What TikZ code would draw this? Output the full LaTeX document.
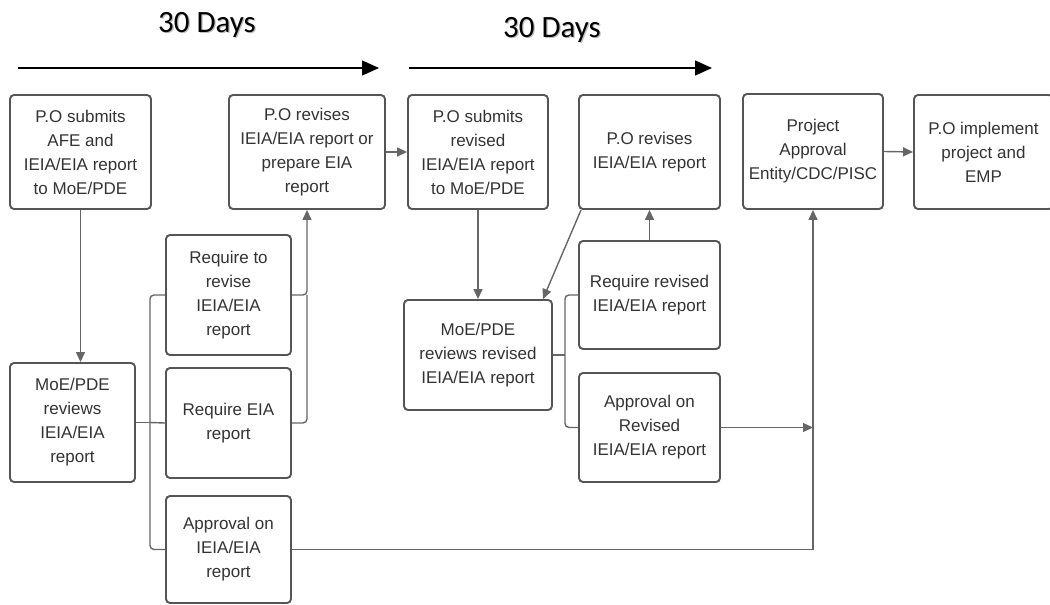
\documentclass[tikz,border=0pt]{standalone}
\usepackage{fontspec}
\setmainfont{Liberation Sans}
\newfontfamily\daysfont{Carlito}
\usetikzlibrary{arrows.meta}
\definecolor{boxline}{HTML}{555555}
\definecolor{connline}{HTML}{666666}
\definecolor{txt}{HTML}{333333}
\tikzset{
  box/.style={draw=boxline, line width=1.9pt, rounded corners=4pt, align=center,
    inner sep=2pt, text=txt, font=\fontsize{17}{24}\selectfont},
  conn/.style={draw=connline, line width=1.4pt},
  garrow/.style={conn, -{Triangle[length=10pt,width=9pt]}},
  dayarrow/.style={draw=black, line width=1.3pt, -{Triangle[length=17pt,width=15pt]}},
  days/.style={font=\daysfont\fontsize{31}{34}\selectfont, text=black},
  dayshadow/.style={font=\daysfont\fontsize{31}{34}\selectfont, text=black!25},
}
\begin{document}
\begin{tikzpicture}[x=1pt,y=-1pt]
\useasboundingbox (0,0) rectangle (1050,605);
% top timeline
\node[dayshadow] (d1s) at (208.2,26.2) {30 Days};
\node[days] (d1) at (207,25) {30 Days};
\node[dayshadow] (d2s) at (553.2,31.2) {30 Days};
\node[days] (d2) at (552,30) {30 Days};
\coordinate (t1s) at (18,68);
\coordinate (t1e) at (379,68);
\coordinate (t2s) at (409,68);
\coordinate (t2e) at (712,68);
\draw[dayarrow] (t1s) -- (t1e);
\draw[dayarrow] (t2s) -- (t2e);
% boxes
\node[box, minimum width=141pt, minimum height=114pt] (b1) at (80.5,152) {P.O submits\\AFE and\\IEIA/EIA report\\to MoE/PDE};
\node[box, minimum width=156pt, minimum height=114pt] (b2) at (307,152) {P.O revises\\IEIA/EIA report or\\prepare EIA\\report};
\node[box, minimum width=140pt, minimum height=114pt] (b3) at (478,152) {P.O submits\\revised\\IEIA/EIA report\\to MoE/PDE};
\node[box, minimum width=141pt, minimum height=114pt] (b4) at (649.5,152) {P.O revises\\IEIA/EIA report};
\node[box, minimum width=140pt, minimum height=115pt] (b5) at (813,151.5) {Project\\Approval\\Entity/CDC/PISC};
\node[box, minimum width=139pt, minimum height=114pt] (b6) at (983.5,152) {P.O implement\\project and\\EMP};
\node[box, minimum width=125pt, minimum height=119pt] (b7) at (72.5,422.5) {MoE/PDE\\reviews\\IEIA/EIA\\report};
\node[box, minimum width=125pt, minimum height=120pt] (b8) at (228.5,295) {Require to\\revise\\IEIA/EIA\\report};
\node[box, minimum width=125pt, minimum height=110pt] (b9) at (228.5,423) {Require EIA\\report};
\node[box, minimum width=125pt, minimum height=107pt] (b10) at (228.5,549.5) {Approval on\\IEIA/EIA\\report};
\node[box, minimum width=148pt, minimum height=110pt] (b11) at (478,355) {MoE/PDE\\reviews revised\\IEIA/EIA report};
\node[box, minimum width=141pt, minimum height=108pt] (b12) at (649.5,295) {Require revised\\IEIA/EIA report};
\node[box, minimum width=141pt, minimum height=109pt] (b13) at (649.5,427.5) {Approval on\\Revised\\IEIA/EIA report};
% connectors
\draw[garrow] (b1.south) -- (b1.south |- b7.north);
\coordinate (j1) at (150,422.5);
\draw[conn] (b7.east) -- (j1);
\draw[conn, rounded corners=4pt] (j1) |- (b8.west);
\draw[conn, rounded corners=4pt] (j1) |- (b10.west);
\draw[conn] (j1) -- (b9.west);
\draw[garrow, rounded corners=4pt] (b8.east) -| (b2.south);
\draw[conn, rounded corners=4pt] (b9.east) -| (b2.south |- b8.east);
\draw[garrow] (b2.east) -- (b3.west);
\draw[garrow] (b3.south) -- (b11.north);
\draw[garrow] ([xshift=3pt]b4.south west) -- ([xshift=-10pt]b11.north east);
\coordinate (j2) at (565,355);
\draw[conn] (b11.east) -- (j2);
\draw[conn, rounded corners=4pt] (j2) |- (b12.west);
\draw[conn, rounded corners=4pt] (j2) |- (b13.west);
\draw[garrow] (b12.north) -- (b4.south);
\draw[garrow] (b13.east) -- (b5.south |- b13.east);
\draw[garrow] (b10.east) -| (b5.south);
\draw[garrow] (b5.east) -- (b6.west);
\end{tikzpicture}
\end{document}
